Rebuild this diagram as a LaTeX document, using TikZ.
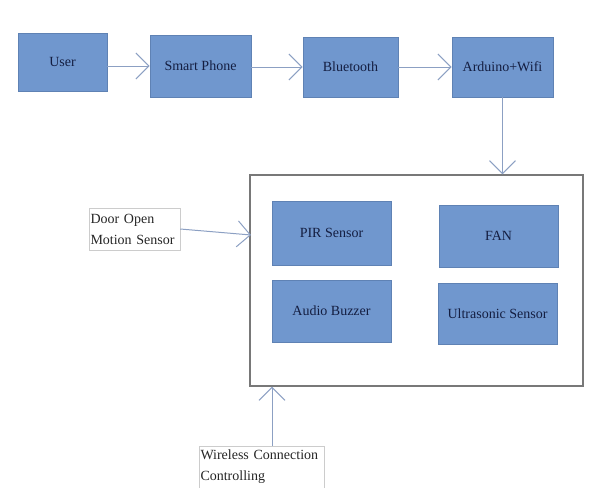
\documentclass[tikz,border=0pt]{standalone}
\usepackage{fontspec}
\setmainfont{Liberation Serif}
\usetikzlibrary{arrows.meta}
\definecolor{boxfill}{RGB}{112,151,206}
\definecolor{boxline}{RGB}{95,130,180}
\definecolor{boxtext}{RGB}{20,30,65}
\definecolor{arrowcol}{RGB}{140,160,195}
\definecolor{frame}{RGB}{120,120,120}
\tikzset{
  blockbox/.style={draw=boxline, line width=0.8pt, fill=boxfill, text=boxtext,
    font=\fontsize{14}{16}\selectfont, inner sep=0pt, align=center},
  labelbox/.style={draw=black!20, line width=0.5pt, fill=white, text=black!85,
    font=\fontsize{14}{21}\selectfont, inner sep=1.5pt, align=left},
  link/.style={draw=arrowcol, line width=1pt,
    -{Straight Barb[length=13pt,width=26pt,line width=1pt]}}
}
\begin{document}
\begin{tikzpicture}[x=1pt,y=-1pt]
\useasboundingbox (0,0) rectangle (590,488);
% top row
\node[blockbox, minimum width=89pt, minimum height=58pt] (user) at (62.5,62) {User};
\node[blockbox, minimum width=101pt, minimum height=62pt] (phone) at (200.5,66) {Smart Phone};
\node[blockbox, minimum width=95pt, minimum height=60pt] (bt) at (350.5,67) {Bluetooth};
\node[blockbox, minimum width=101pt, minimum height=60pt] (ard) at (502.5,67) {Arduino+Wifi};
% big container
\node[draw=frame, line width=1.3pt, fill=white, minimum width=333pt, minimum height=211pt, inner sep=0pt] (cont) at (416.5,280.5) {};
% inner blocks
\node[blockbox, minimum width=119pt, minimum height=64pt] (pir) at (331.5,233) {PIR Sensor};
\node[blockbox, minimum width=119pt, minimum height=62pt] (buzz) at (331.5,311) {Audio Buzzer};
\node[blockbox, minimum width=119pt, minimum height=62pt] (fan) at (498.5,236) {FAN};
\node[blockbox, minimum width=119pt, minimum height=61pt] (ultra) at (497.5,313.5) {Ultrasonic Sensor};
% side labels
\node[labelbox, text width=88pt, minimum height=42pt] (door) at (134.5,229) {Door Open\\Motion Sensor};
\node[labelbox, text width=122pt, minimum height=42pt] (wl) at (261.5,467) {Wireless Connection\\Controlling};
\coordinate (doorin) at (251,235);
\coordinate (wltop) at (272,446);
% connectors
\draw[link] (user.east |- phone) -- (phone.west);
\draw[link] (phone.east |- bt) -- (bt.west);
\draw[link] (bt.east) -- (ard.west);
\draw[link] (ard.south) -- (ard.south |- cont.north);
\draw[link] (door.east) -- (doorin);
\draw[link] (wltop) -- (wltop |- cont.south);
\end{tikzpicture}
\end{document}
